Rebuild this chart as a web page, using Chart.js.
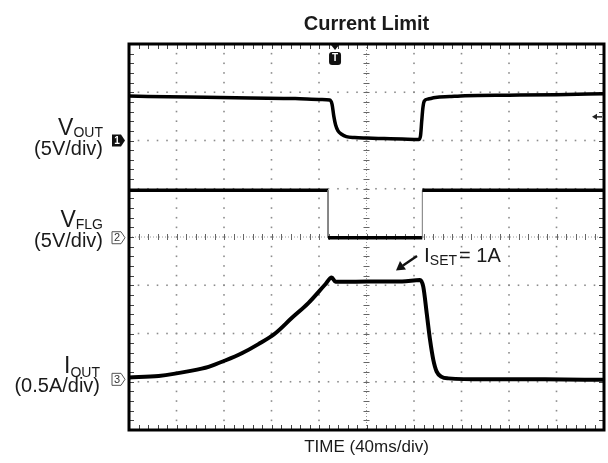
<!DOCTYPE html>
<html>
<head>
<meta charset="utf-8">
<script src="https://cdn.jsdelivr.net/npm/chart.js@4.4.1/dist/chart.umd.min.js"></script>
<style>
  html, body { margin: 0; padding: 0; background: #fff; }
  #wrap { width: 608px; height: 463px; position: relative; }
</style>
</head>
<body>
<div id="wrap"><canvas id="scope"></canvas></div>
<script>
// time in ms (40ms/div), levels in screen divisions (0 = bottom of graticule, 8 = top)
const voutTime = [0, 50, 102, 140, 162, 169, 171, 172.5, 174, 176, 179, 183, 190, 200, 215, 230, 244, 245.5, 246.5, 247.5, 248.7, 252, 258, 270, 283, 320, 360, 400];
const vout     = [6.92, 6.9, 6.88, 6.87, 6.85, 6.84, 6.75, 6.5, 6.32, 6.2, 6.13, 6.08, 6.06, 6.05, 6.04, 6.03, 6.02, 6.1, 6.4, 6.68, 6.82, 6.86, 6.89, 6.91, 6.93, 6.94, 6.95, 6.97];

const flgTime = [0, 167.6, 167.6, 247, 247, 400];
const vflg    = [4.97, 4.97, 3.985, 3.985, 4.97, 4.97];

const ioutTime = [0, 25, 53, 67, 81, 95, 109, 123, 137, 151, 165, 170.7, 174, 200, 230, 245, 247.8, 250.7, 253.5, 256.3, 259.1, 263.3, 269, 300, 350, 400];
const iout     = [1.09, 1.12, 1.23, 1.31, 1.44, 1.59, 1.78, 2.0, 2.32, 2.63, 3.01, 3.16, 3.07, 3.08, 3.08, 3.11, 2.97, 2.42, 1.87, 1.45, 1.21, 1.1, 1.07, 1.05, 1.05, 1.04];

// channel ground markers (1, 2, 3), trigger position / level
const groundLevels = [6.0, 3.985, 1.05];
const triggerTime = 173.5;
const triggerLevel = 6.49;

const FONT = '"Liberation Sans", Arial, Helvetica, sans-serif';
const toPoints = (xs, ys) => xs.map((x, i) => ({ x, y: ys[i] }));

// text with a subscript, right aligned at rx
function subLabel(ctx, main, sub, rx, base, mainSize, subSize, drop) {
  ctx.font = mainSize + "px " + FONT;
  const wm = ctx.measureText(main).width;
  ctx.font = subSize + "px " + FONT;
  const ws = ctx.measureText(sub).width;
  const x0 = rx - wm - ws;
  ctx.textAlign = "left";
  ctx.font = mainSize + "px " + FONT;
  ctx.fillText(main, x0, base);
  ctx.font = subSize + "px " + FONT;
  ctx.fillText(sub, x0 + wm, base + drop);
}

function chMarker(ctx, px, py, label, filled) {
  ctx.beginPath();
  ctx.moveTo(px - 15, py - 6);
  ctx.lineTo(px - 6, py - 6);
  ctx.lineTo(px - 2, py);
  ctx.lineTo(px - 6, py + 6);
  ctx.lineTo(px - 15, py + 6);
  ctx.closePath();
  if (filled) {
    ctx.fillStyle = "#111";
    ctx.fill();
    ctx.fillStyle = "#fff";
    ctx.font = "bold 10px " + FONT;
  } else {
    ctx.strokeStyle = "#555";
    ctx.lineWidth = 1;
    ctx.stroke();
    ctx.fillStyle = "#333";
    ctx.font = "11px " + FONT;
  }
  ctx.textAlign = "center";
  ctx.textBaseline = "middle";
  ctx.fillText(label, px - 10, py + 0.5);
  ctx.textBaseline = "alphabetic";
}

const scopeDecor = {
  id: "scopeDecor",
  beforeDatasetsDraw(chart) {
    const { ctx, chartArea: a, scales: { x, y } } = chart;
    ctx.save();
    // dotted major graticule lines
    ctx.fillStyle = "#8c8c8c";
    for (let i = 1; i < 10; i++) {
      if (i === 5) continue;
      const px = x.getPixelForValue(i * 40);
      for (let j = 0; j <= 40; j++) {
        const py = y.getPixelForValue(j * 0.2);
        ctx.fillRect(px - 0.8, py - 0.8, 1.6, 1.6);
      }
    }
    for (let k = 1; k < 8; k++) {
      if (k === 4) continue;
      const py = y.getPixelForValue(k);
      for (let j = 0; j <= 50; j++) {
        const px = x.getPixelForValue(j * 8);
        ctx.fillRect(px - 0.8, py - 0.8, 1.6, 1.6);
      }
    }
    // centre cross lines with minor ticks
    const cx = x.getPixelForValue(200);
    const cy = y.getPixelForValue(4);
    ctx.strokeStyle = "#9a9a9a";
    ctx.lineWidth = 1;
    ctx.setLineDash([1, 2]);
    ctx.beginPath();
    ctx.moveTo(cx, a.top); ctx.lineTo(cx, a.bottom);
    ctx.moveTo(a.left, cy); ctx.lineTo(a.right, cy);
    ctx.stroke();
    ctx.setLineDash([]);
    ctx.strokeStyle = "#666";
    ctx.beginPath();
    for (let j = 1; j < 40; j++) {
      const py = Math.round(y.getPixelForValue(j * 0.2)) + 0.5;
      ctx.moveTo(cx - 3, py); ctx.lineTo(cx + 3, py);
    }
    for (let j = 1; j < 50; j++) {
      const px = Math.round(x.getPixelForValue(j * 8)) + 0.5;
      ctx.moveTo(px, cy - 3); ctx.lineTo(px, cy + 3);
    }
    ctx.stroke();
    // edge ticks
    ctx.strokeStyle = "#444";
    ctx.beginPath();
    for (let j = 1; j < 50; j++) {
      const px = Math.round(x.getPixelForValue(j * 8)) + 0.5;
      ctx.moveTo(px, a.top); ctx.lineTo(px, a.top + 5);
      ctx.moveTo(px, a.bottom); ctx.lineTo(px, a.bottom - 5);
    }
    for (let j = 1; j < 40; j++) {
      const py = Math.round(y.getPixelForValue(j * 0.2)) + 0.5;
      ctx.moveTo(a.left, py); ctx.lineTo(a.left + 5, py);
      ctx.moveTo(a.right, py); ctx.lineTo(a.right - 5, py);
    }
    ctx.stroke();
    ctx.restore();
  },
  afterDatasetsDraw(chart) {
    const { ctx, chartArea: a, scales: { x, y } } = chart;
    ctx.save();
    // frame
    ctx.strokeStyle = "#000";
    ctx.lineWidth = 3;
    ctx.strokeRect(a.left, a.top, a.right - a.left, a.bottom - a.top);

    // channel markers
    chMarker(ctx, a.left - 2, y.getPixelForValue(groundLevels[0]), "1", true);
    chMarker(ctx, a.left - 2, y.getPixelForValue(groundLevels[1]), "2", false);
    chMarker(ctx, a.left - 2, y.getPixelForValue(groundLevels[2]), "3", false);

    // trigger position marker
    const tx = x.getPixelForValue(triggerTime);
    ctx.fillStyle = "#111";
    ctx.beginPath();
    ctx.moveTo(tx - 4, a.top + 1); ctx.lineTo(tx + 4, a.top + 1); ctx.lineTo(tx, a.top + 6);
    ctx.closePath(); ctx.fill();
    ctx.beginPath();
    ctx.roundRect(tx - 6, a.top + 8, 12, 13, 3);
    ctx.fill();
    ctx.fillStyle = "#fff";
    ctx.font = "bold 10px " + FONT;
    ctx.textAlign = "center";
    ctx.textBaseline = "middle";
    ctx.fillText("T", tx, a.top + 14.5);
    ctx.textBaseline = "alphabetic";

    // trigger level arrow
    const ty = y.getPixelForValue(triggerLevel);
    ctx.strokeStyle = "#222";
    ctx.fillStyle = "#222";
    ctx.lineWidth = 1.5;
    ctx.beginPath();
    ctx.moveTo(a.right - 2, ty); ctx.lineTo(a.right - 8, ty); ctx.stroke();
    ctx.beginPath();
    ctx.moveTo(a.right - 12, ty); ctx.lineTo(a.right - 7, ty - 3); ctx.lineTo(a.right - 7, ty + 3);
    ctx.closePath(); ctx.fill();

    // texts
    ctx.fillStyle = "#1a1a1a";
    ctx.textAlign = "center";
    ctx.font = "bold 20px " + FONT;
    ctx.fillText("Current Limit", (a.left + a.right) / 2, 30);
    ctx.font = "17px " + FONT;
    ctx.fillText("TIME (40ms/div)", (a.left + a.right) / 2, 452);

    subLabel(ctx, "V", "OUT", 103, 135, 23, 14, 2);
    subLabel(ctx, "V", "FLG", 103, 227, 23, 14, 2);
    subLabel(ctx, "I", "OUT", 100, 373, 23, 14, 4);
    ctx.textAlign = "right";
    ctx.font = "20px " + FONT;
    ctx.fillText("(5V/div)", 103, 155);
    ctx.fillText("(5V/div)", 103, 247);
    ctx.fillText("(0.5A/div)", 100, 392);

    // I_SET annotation
    ctx.textAlign = "left";
    ctx.font = "21px " + FONT;
    ctx.fillText("I", 424, 262);
    let cxp = 424 + ctx.measureText("I").width;
    ctx.font = "14px " + FONT;
    ctx.fillText("SET", cxp, 265);
    cxp += ctx.measureText("SET").width + 2;
    ctx.font = "20px " + FONT;
    ctx.fillText("= 1A", cxp, 262);

    ctx.strokeStyle = "#111";
    ctx.fillStyle = "#111";
    ctx.lineWidth = 2.5;
    ctx.beginPath();
    ctx.moveTo(417, 256); ctx.lineTo(403, 265.5); ctx.stroke();
    ctx.beginPath();
    ctx.moveTo(396, 270.5); ctx.lineTo(400, 261); ctx.lineTo(406, 269.5);
    ctx.closePath(); ctx.fill();
    ctx.restore();
  }
};

const edgeWidth = (c) => (c.p0.parsed.x === c.p1.parsed.x ? 1 : undefined);
const edgeColor = (c) => (c.p0.parsed.x === c.p1.parsed.x ? "#777" : undefined);

new Chart(document.getElementById("scope"), {
  type: "line",
  data: {
    datasets: [
      { label: "VOUT", data: toPoints(voutTime, vout), borderColor: "#000", borderWidth: 3.5, pointRadius: 0, cubicInterpolationMode: "monotone" },
      { label: "VFLG", data: toPoints(flgTime, vflg), borderColor: "#000", borderWidth: 3.5, pointRadius: 0, tension: 0,
        segment: { borderWidth: edgeWidth, borderColor: edgeColor } },
      { label: "IOUT", data: toPoints(ioutTime, iout), borderColor: "#000", borderWidth: 4, pointRadius: 0, cubicInterpolationMode: "monotone" }
    ]
  },
  options: {
    responsive: true,
    maintainAspectRatio: false,
    animation: false,
    events: [],
    layout: { padding: { left: 129, right: 4, top: 44, bottom: 33 } },
    plugins: { legend: { display: false }, tooltip: { enabled: false } },
    scales: {
      x: { type: "linear", min: 0, max: 400, display: false },
      y: { min: 0, max: 8, display: false }
    }
  },
  plugins: [scopeDecor]
});
</script>
</body>
</html>
